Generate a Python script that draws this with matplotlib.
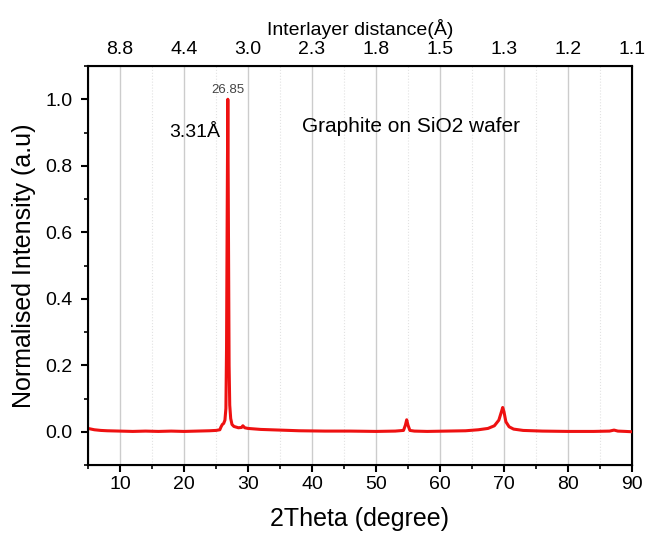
import matplotlib
matplotlib.use("Agg")
import matplotlib.pyplot as plt
from matplotlib.ticker import MultipleLocator

plt.rcParams['font.family'] = ['Liberation Sans', 'DejaVu Sans']

# 2Theta (degree) and normalised intensity
two_theta = [5.0, 6.0, 7.0, 8.0, 10.0, 12.0, 14.0, 16.0, 18.0, 20.0, 22.0, 24.0, 25.0,
             25.6, 25.8, 26.0, 26.2, 26.4, 26.55, 26.65, 26.75, 26.85, 26.95, 27.05,
             27.15, 27.3, 27.5, 27.8, 28.5, 29.0, 29.2, 29.5, 30.0, 32.0, 35.0, 38.0,
             42.0, 46.0, 50.0, 53.0, 54.3, 54.6, 54.8, 55.0, 55.3, 56.0, 58.0, 61.0,
             64.0, 66.0, 67.5, 68.5, 69.2, 69.6, 69.8, 70.0, 70.3, 70.8, 71.5, 73.0,
             76.0, 80.0, 84.0, 86.5, 87.2, 87.8, 89.0, 90.0]
intensity = [0.010, 0.006, 0.004, 0.003, 0.002, 0.001, 0.002, 0.001, 0.002, 0.001, 0.002,
             0.003, 0.004, 0.006, 0.015, 0.022, 0.025, 0.035, 0.07, 0.25, 0.65, 1.0, 0.60,
             0.20, 0.08, 0.04, 0.022, 0.016, 0.012, 0.013, 0.018, 0.012, 0.010, 0.007,
             0.005, 0.003, 0.002, 0.002, 0.001, 0.002, 0.004, 0.020, 0.036, 0.020, 0.004,
             0.002, 0.001, 0.002, 0.003, 0.006, 0.010, 0.018, 0.035, 0.060, 0.073, 0.060,
             0.030, 0.015, 0.008, 0.004, 0.002, 0.001, 0.001, 0.002, 0.005, 0.002, 0.001,
             0.000]

top_ticks = [10, 20, 30, 40, 50, 60, 70, 80, 90]
top_labels = ["8.8", "4.4", "3.0", "2.3", "1.8", "1.5", "1.3", "1.2", "1.1"]

fig = plt.figure(figsize=(6.45, 5.34), dpi=100)
ax = fig.add_axes([0.1364, 0.1292, 0.8434, 0.7472])

ax.plot(two_theta, intensity, color='#ee1111', lw=2.2, zorder=3)

ax.set_xlim(5, 90)
ax.set_ylim(-0.1, 1.1)
ax.xaxis.set_major_locator(MultipleLocator(10))
ax.xaxis.set_minor_locator(MultipleLocator(5))
ax.yaxis.set_minor_locator(MultipleLocator(0.1))
ax.set_yticks([0.0, 0.2, 0.4, 0.6, 0.8, 1.0])
ax.set_yticklabels(["0.0", "0.2", "0.4", "0.6", "0.8", "1.0"])

ax.grid(True, which='major', axis='x', color='#cccccc', lw=1.0, zorder=0)
ax.grid(True, which='minor', axis='x', color='#e2e2e2', lw=0.8, ls=':', zorder=0)

ax.tick_params(axis='x', which='major', direction='out', length=5, width=1.5, labelsize=14, pad=3)
ax.tick_params(axis='y', which='major', direction='out', length=5, width=1.5, labelsize=14, pad=6)
ax.tick_params(which='minor', direction='out', length=3, width=1.2)
for s in ax.spines.values():
    s.set_linewidth(1.5)

ax.set_xlabel("2Theta (degree)", fontsize=18, labelpad=10)
ax.set_ylabel("Normalised Intensity (a.u)", fontsize=18, labelpad=7)

ax2 = ax.twiny()
ax2.set_xlim(ax.get_xlim())
ax2.set_xticks(top_ticks)
ax2.set_xticklabels(top_labels)
ax2.tick_params(axis='x', length=0, labelsize=14, pad=6)
ax2.set_xlabel("Interlayer distance(Å)", fontsize=14, labelpad=4)

ax.text(26.85, 1.01, "26.85", fontsize=9.5, color='#444444', ha='center', va='bottom')
ax.text(21.7, 0.90, "3.31Å", fontsize=14, ha='center', va='center')
ax.text(55.5, 0.918, "Graphite on SiO2 wafer", fontsize=15, ha='center', va='center')

fig.savefig("out.png", dpi=100)
